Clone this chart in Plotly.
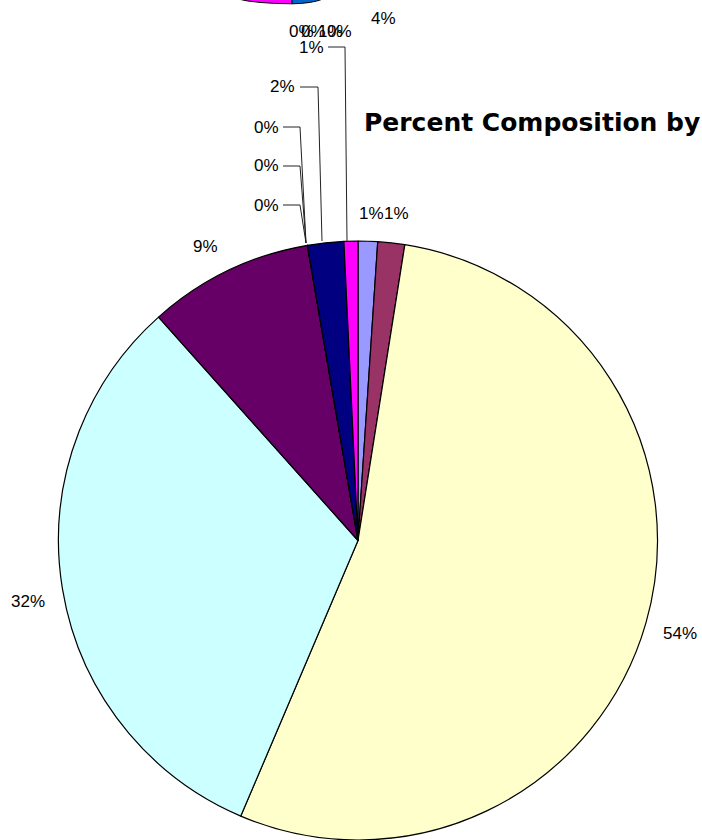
import plotly.graph_objects as go

# ---- data ----
categories = ["A", "B", "C", "D", "E", "F", "G", "H", "I", "J"]
values = [1.05, 1.45, 53.9, 32.0, 8.9, 0.0, 0.0, 0.0, 1.95, 0.75]
colors = ["#9999FF", "#993366", "#FFFFCC", "#CCFFFF", "#660066",
          "#FF8080", "#0066CC", "#CCCCFF", "#000080", "#FF00FF"]
title_text = "Percent Composition by"
# labels of the clipped chart above
upper_labels = ["0%", "0%", "1%", "0%", "4%"]

W, H = 702, 840
def X(px):
    return px / W
def Y(py):
    return 1 - py / H

total = sum(values)
pct = [f"{round(v / total * 100)}%" for v in values]

fig = go.Figure()
fig.add_trace(go.Pie(
    labels=categories, values=values, sort=False, direction="clockwise",
    rotation=0, marker=dict(colors=colors, line=dict(color="black", width=1.2)),
    textinfo="none", hoverinfo="label+percent", showlegend=False,
    domain=dict(x=[X(56), X(660)], y=[0, Y(241)]),
))

LBL = dict(family="Liberation Sans, Arial", size=17, color="black")
ann = []
# label placement (pixel centres) for each slice
label_pos = {0: (371, 213), 1: (396, 213), 2: (680, 633), 3: (28, 601),
             4: (205, 246), 5: (266, 127), 6: (266, 166), 7: (266, 205),
             8: (282, 87), 9: (311, 47)}
for i, (cx, cy) in label_pos.items():
    ann.append(dict(x=X(cx), y=Y(cy), xref="paper", yref="paper", text=pct[i],
                    showarrow=False, font=LBL, xanchor="center", yanchor="middle"))

# labels of clipped upper chart
upper_pos = [(301, 32), (313, 32), (330, 32), (339, 32), (383, 18)]
for t, (cx, cy) in zip(upper_labels, upper_pos):
    ann.append(dict(x=X(cx), y=Y(cy), xref="paper", yref="paper", text=t,
                    showarrow=False, font=LBL, xanchor="center", yanchor="middle"))

ann.append(dict(x=X(362), y=Y(122), xref="paper", yref="paper", text=title_text,
                showarrow=False, xanchor="left", yanchor="middle",
                font=dict(family="DejaVu Sans", size=25, color="black", weight="bold")))

# leader lines
leaders = [
    [(328, 47), (345, 47), (347, 241)],
    [(300, 87), (318, 87), (322, 241)],
    [(283, 127), (300, 127), (306, 243)],
    [(283, 166), (300, 166), (306, 243)],
    [(283, 205), (300, 205), (306, 243)],
]
shapes = []
for pts in leaders:
    d = "M " + " L ".join(f"{X(a)},{Y(b)}" for a, b in pts)
    shapes.append(dict(type="path", path=d, xref="paper", yref="paper",
                       line=dict(color="#222222", width=1)))

# bottom edge of clipped upper pie
mag = f"M {X(238)},{Y(-1)} Q {X(255)},{Y(3.5)} {X(292)},{Y(3.8)} L {X(292)},{Y(-1)} Z"
blu = f"M {X(292)},{Y(-1)} L {X(292)},{Y(3.8)} Q {X(312)},{Y(3.5)} {X(323)},{Y(-1)} Z"
shapes.append(dict(type="path", path=mag, xref="paper", yref="paper",
                   fillcolor="#FF00FF", line=dict(color="black", width=1)))
shapes.append(dict(type="path", path=blu, xref="paper", yref="paper",
                   fillcolor="#0066CC", line=dict(color="black", width=1)))

fig.update_layout(width=W, height=H, margin=dict(l=0, r=0, t=0, b=0),
                  paper_bgcolor="white", plot_bgcolor="white",
                  annotations=ann, shapes=shapes)
fig.write_html("out.html", config={"displayModeBar": False},
               post_script="document.body.style.margin='0';document.body.style.overflow='hidden';")
